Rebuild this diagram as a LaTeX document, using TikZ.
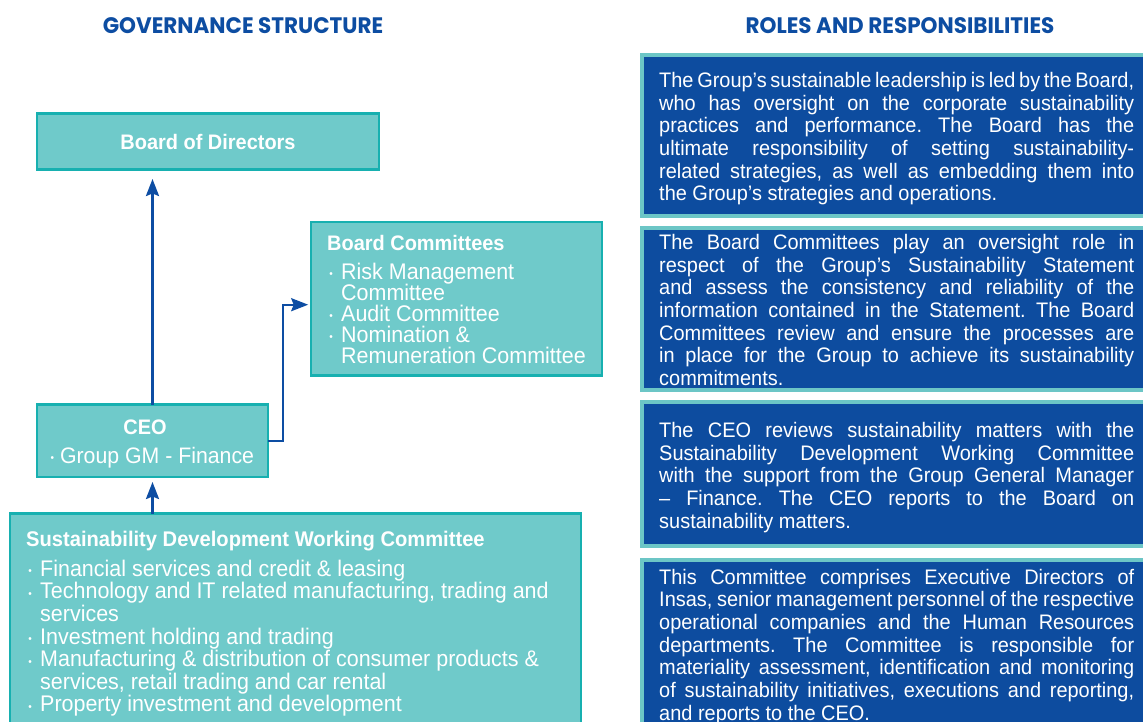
\documentclass[tikz,border=0pt]{standalone}
\usepackage{fontspec}
\usetikzlibrary{arrows.meta}
\newfontfamily\bodyf[FakeStretch=0.95]{Liberation Sans}
\newfontfamily\headf[FakeStretch=0.96]{Poppins}
\definecolor{tealfill}{HTML}{6FCACA}
\definecolor{tealline}{HTML}{17B0B0}
\definecolor{lightteal}{HTML}{6CC6C6}
\definecolor{navy}{HTML}{0D4C9F}
\definecolor{arrblue}{HTML}{0D4DA3}
\definecolor{headblue}{HTML}{0D4DA2}
\newcommand\jl[1]{\makebox[475pt][s]{#1}}
\newcommand\dotb{\raisebox{1.6pt}{\fontsize{10.5}{10.5}\selectfont •}}
\newcommand\bul{\makebox[14pt][l]{\hspace{2.2pt}\dotb}}
\newcommand\ind{\hspace*{14pt}}
\newcommand\firstrule{\rule{0pt}{18pt}}
\newcommand\bodysetup{\bodyf\fontsize{21}{22.65}\selectfont\frenchspacing\spaceskip=0.265em plus 3em minus 0.13em\relax}
\tikzset{
  tbox/.style={draw=tealline, fill=tealfill, line width=2.5pt, inner sep=0pt, outer sep=0pt, anchor=north west},
  nbox/.style={draw=lightteal, fill=navy, line width=4pt, inner sep=0pt, outer sep=0pt, anchor=north west},
  headtxt/.style={text=headblue, font=\headf\bfseries\fontsize{22.4}{24}\selectfont, inner sep=0pt, anchor=base},
  boldtxt/.style={text=white, font=\bodyf\bfseries\fontsize{21}{22}\selectfont, inner sep=0pt, anchor=base},
  regtxt/.style={text=white, font=\bodyf\fontsize{22.4}{22.6}\selectfont, inner sep=0pt, anchor=base},
  listtxt/.style={text=white, inner sep=0pt, anchor=north west, align=left},
  bodytxt/.style={text=white, inner sep=0pt, anchor=north west, align=left, font=\bodysetup},
  arr/.style={draw=arrblue, line width=2.4pt, -{Stealth[length=17pt,width=13pt,inset=2.5pt]}}
}
\begin{document}
\begin{tikzpicture}[x=1pt,y=-1pt]
\clip (0,0) rectangle (1143,722);
\fill[white] (0,0) rectangle (1143,722);

% headings
\node[headtxt] (h1) at (243,33.3) {GOVERNANCE STRUCTURE};
\node[headtxt] (h2) at (900,33.3) {ROLES AND RESPONSIBILITIES};

% left boxes
\node[tbox, minimum width=341.8pt, minimum height=56pt] (bod) at (37,113.5) {};
\node[boldtxt] (bodt) at (208,149.3) {Board of Directors};

\node[tbox, minimum width=290.8pt, minimum height=153.3pt] (bc) at (311.2,222.2) {};
\node[listtxt, font=\bodyf\fontsize{22.6}{21.1}\selectfont] (bct) at (327,232) {%
  \firstrule{\bfseries\fontsize{21}{21.1}\selectfont Board Committees}\\[7.9pt]
  \bul Risk Management\\
  \ind Committee\\
  \bul Audit Committee\\
  \bul Nomination \&\\
  \ind Remuneration Committee};

\node[tbox, minimum width=231pt, minimum height=72.5pt] (ceo) at (37,404.5) {};
\node[boldtxt] (ceot) at (145,434) {CEO};
\node[regtxt] (ceog) at (152.3,463.3) {\dotb\hspace{6pt}Group GM - Finance};

\node[tbox, minimum width=570.6pt, minimum height=240pt] (sdwc) at (10.2,513.5) {};
\node[listtxt, font=\bodyf\fontsize{22.6}{22.6}\selectfont] (sdwct) at (26,528) {%
  \firstrule{\bfseries\fontsize{21.2}{22.6}\selectfont Sustainability Development Working Committee}\\[7.4pt]
  \bul Financial services and credit \& leasing\\
  \bul Technology and IT related manufacturing, trading and\\
  \ind services\\
  \bul Investment holding and trading\\
  \bul Manufacturing \& distribution of consumer products \&\\
  \ind services, retail trading and car rental\\
  \bul Property investment and development};

% connectors
\draw[arr] (ceo.north) -- ([yshift=-9.5pt]ceo.north |- bod.south);
\draw[arr, shorten >=3pt] (ceo.east) -- ++(15,0) |- ([yshift=-5.85pt]bc.west);
\draw[arr, shorten >=5pt] (ceo.south |- sdwc.north) -- (ceo.south);

% right boxes
\node[nbox, minimum width=520pt, minimum height=160.7pt] (r1) at (642,55.3) {};
\node[nbox, minimum width=520pt, minimum height=161.7pt] (r2) at (642,228) {};
\node[nbox, minimum width=520pt, minimum height=144pt] (r3) at (642,402) {};
\node[nbox, minimum width=520pt, minimum height=200pt] (r4) at (642,559.7) {};

\node[bodytxt] (r1t) at (659,69.3) {%
  \firstrule\jl{The Group’s sustainable leadership is led by the Board,}\\
  \jl{who has oversight on the corporate sustainability}\\
  \jl{practices and performance. The Board has the}\\
  \jl{ultimate responsibility of setting sustainability-}\\
  \jl{related strategies, as well as embedding them into}\\
  the Group’s strategies and operations.};

\node[bodytxt] (r2t) at (659,231.3) {%
  \firstrule\jl{The Board Committees play an oversight role in}\\
  \jl{respect of the Group’s Sustainability Statement}\\
  \jl{and assess the consistency and reliability of the}\\
  \jl{information contained in the Statement. The Board}\\
  \jl{Committees review and ensure the processes are}\\
  \jl{in place for the Group to achieve its sustainability}\\
  commitments.};

\node[bodytxt] (r3t) at (659,419.3) {%
  \firstrule\jl{The CEO reviews sustainability matters with the}\\
  \jl{Sustainability Development Working Committee}\\
  \jl{with the support from the Group General Manager}\\
  \jl{– Finance. The CEO reports to the Board on}\\
  sustainability matters.};

\node[bodytxt] (r4t) at (659,566) {%
  \firstrule\jl{This Committee comprises Executive Directors of}\\
  \jl{Insas, senior management personnel of the respective}\\
  \jl{operational companies and the Human Resources}\\
  \jl{departments. The Committee is responsible for}\\
  \jl{materiality assessment, identification and monitoring}\\
  \jl{of sustainability initiatives, executions and reporting,}\\
  and reports to the CEO.};
\end{tikzpicture}
\end{document}
